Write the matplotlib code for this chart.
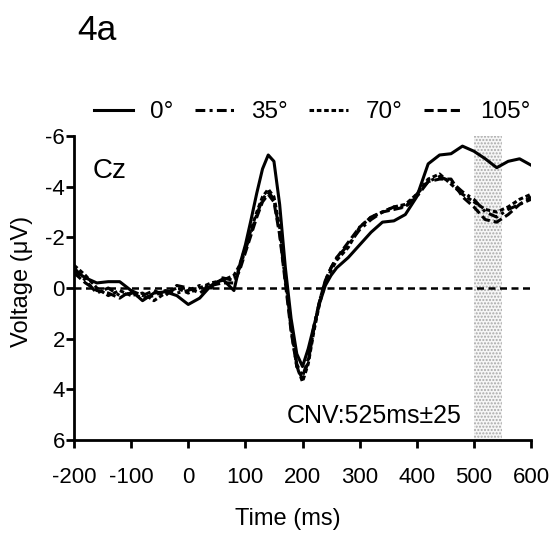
import matplotlib
matplotlib.use("Agg")
import matplotlib.pyplot as plt

plt.rcParams['font.family'] = ['Liberation Sans', 'DejaVu Sans']

# ---- data ----
time_ms = [-200, -180, -160, -140, -120, -100, -80, -60, -40, -20, 0, 20, 40, 60, 80,
           90, 100, 110, 120, 130, 140, 150, 160, 170, 180, 190, 200, 210, 220, 230,
           240, 250, 260, 280, 300, 320, 340, 360, 380, 400, 420, 440, 460, 480, 500,
           520, 540, 560, 580, 600]

v_0 = [-0.7, -0.4, -0.2, -0.25, -0.25, 0.1, 0.5, 0.2, 0.15, 0.3, 0.65, 0.4, -0.1, -0.35, 0.1,
       -0.9, -1.7, -2.7, -3.75, -4.7, -5.25, -5.0, -3.3, -0.8, 1.2, 2.6, 3.1, 2.4, 1.5, 0.6,
       -0.1, -0.5, -0.8, -1.2, -1.7, -2.2, -2.6, -2.65, -2.9, -3.6, -4.9, -5.25, -5.3, -5.6, -5.4,
       -5.1, -4.75, -5.0, -5.1, -4.85]

v_35 = [-0.8, -0.3, 0.2, 0.0, 0.3, 0.2, 0.4, 0.3, 0.1, 0.2, 0.1, -0.1, 0.0, -0.4, -0.3,
        -0.8, -1.5, -2.2, -2.9, -3.5, -3.8, -3.5, -2.2, -0.3, 1.5, 3.0, 3.5, 2.8, 1.5, 0.5,
        -0.3, -0.8, -1.2, -1.7, -2.3, -2.7, -3.0, -3.2, -3.2, -3.6, -4.2, -4.4, -4.2, -3.8, -3.5,
        -3.0, -2.8, -3.1, -3.3, -3.6]

v_70 = [-0.9, -0.5, 0.0, 0.3, 0.1, 0.3, 0.2, 0.5, 0.2, 0.0, 0.2, 0.0, -0.2, -0.3, -0.5,
        -0.9, -1.6, -2.3, -3.0, -3.6, -3.9, -3.6, -2.4, -0.5, 1.6, 3.1, 3.7, 3.0, 1.7, 0.6,
        -0.2, -0.7, -1.1, -1.6, -2.4, -2.8, -3.0, -3.2, -3.3, -3.7, -4.3, -4.5, -4.1, -3.7, -3.4,
        -3.1, -3.0, -3.2, -3.5, -3.7]

v_105 = [-0.6, -0.2, 0.1, 0.2, 0.4, 0.1, 0.3, 0.1, 0.3, -0.1, 0.0, 0.2, -0.1, -0.2, -0.2,
         -0.7, -1.4, -2.1, -2.8, -3.4, -3.7, -3.4, -2.1, -0.2, 1.7, 3.1, 3.6, 2.9, 1.6, 0.5,
         -0.3, -0.8, -1.2, -1.8, -2.4, -2.8, -3.0, -3.1, -3.2, -3.7, -4.2, -4.3, -4.3, -3.6, -3.2,
         -2.7, -2.6, -2.9, -3.3, -3.5]

labels = ['0°', '35°', '70°', '105°']
x_ticks = [-200, -100, 0, 100, 200, 300, 400, 500, 600]
y_ticks = [-6, -4, -2, 0, 2, 4, 6]
cnv_window = (500, 550)

# ---- figure ----
fig = plt.figure(figsize=(5.51, 5.33), dpi=100)
ax = fig.add_axes([74/551, 1-440/533, 457/551, 304/533])

ax.axvspan(cnv_window[0], cnv_window[1], facecolor='#f6f6f6', edgecolor='#a8a8a8',
           hatch='.....', linewidth=0, zorder=0)
ax.axhline(0, color='black', lw=1.8, linestyle=(0, (2.8, 1.8)), zorder=1)

lw = 2.2
styles = ['-', (0, (3.2, 1.4, 1.0, 1.4)), (0, (1.5, 0.9)), (0, (3.0, 1.3))]
handles = []
for vals, ls, lab in zip([v_0, v_35, v_70, v_105], styles, labels):
    ln, = ax.plot(time_ms, vals, color='black', lw=lw, linestyle=ls, label=lab, zorder=3)
    handles.append(ln)

ax.set_xlim(-200, 600)
ax.set_ylim(6, -6)
ax.set_xticks(x_ticks)
ax.set_yticks(y_ticks)
ax.set_xticklabels([str(v) for v in x_ticks])
ax.set_yticklabels([str(v) for v in y_ticks])

for s in ['top', 'right']:
    ax.spines[s].set_visible(False)
for s in ['left', 'bottom']:
    ax.spines[s].set_linewidth(2)
ax.tick_params(axis='both', direction='out', length=5.5, width=2, labelsize=16)
ax.tick_params(axis='x', pad=14)
ax.tick_params(axis='y', pad=1)

ax.set_xlabel('Time (ms)', fontsize=17)
ax.xaxis.set_label_coords(0.468, -0.225)
ax.set_ylabel('Voltage (μV)', fontsize=17)
ax.yaxis.set_label_coords(-0.09, 0.52)

ax.text(-167, -4.34, 'Cz', fontsize=20, va='baseline', ha='left')
ax.text(479, 5.33, 'CNV:525ms±25', fontsize=18, va='baseline', ha='right')

fig.text(77/551, 1-40/533, '4a', fontsize=25.5, va='baseline', ha='left')

leg = fig.legend(handles=handles, labels=labels, loc='center', ncol=4,
                 bbox_to_anchor=(312/551, 1-112/533), frameon=False, fontsize=17.5,
                 handlelength=1.6, handletextpad=0.7, columnspacing=0.9,
                 borderaxespad=0, borderpad=0)

fig.savefig('out.png', dpi=100)
